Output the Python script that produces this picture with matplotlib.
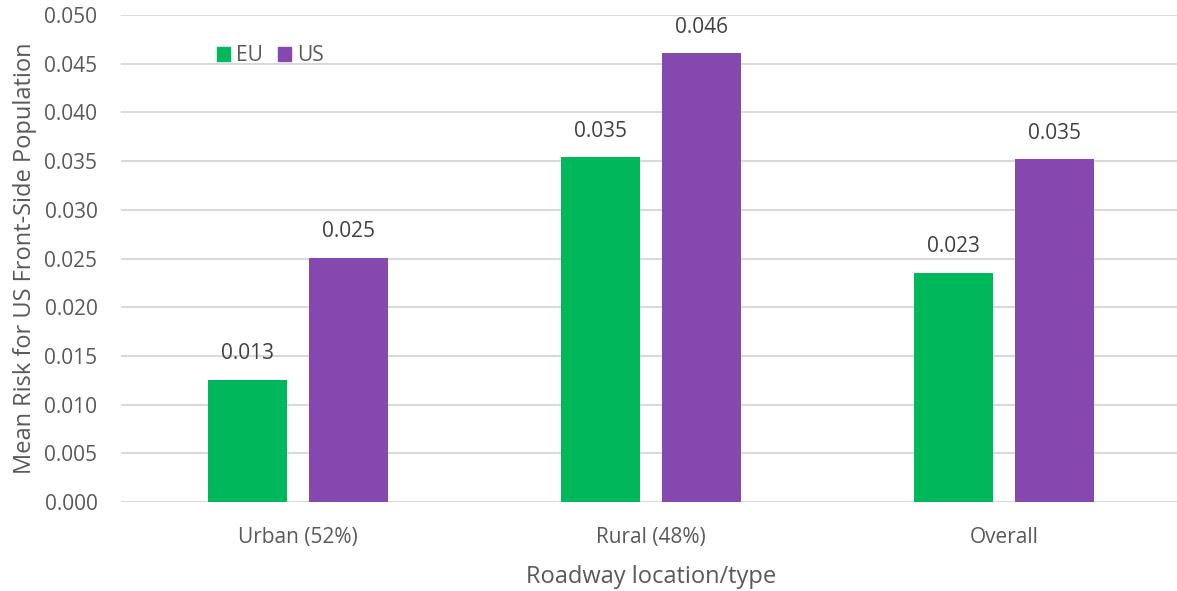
import matplotlib
matplotlib.use("Agg")
import matplotlib.pyplot as plt
import numpy as np
from matplotlib.patches import Patch

categories = ["Urban (52%)", "Rural (48%)", "Overall"]
eu_values = [0.01255, 0.0354, 0.02355]
us_values = [0.0251, 0.0461, 0.0352]
eu_labels = ["0.013", "0.035", "0.023"]
us_labels = ["0.025", "0.046", "0.035"]
yticks = [0.000, 0.005, 0.010, 0.015, 0.020, 0.025, 0.030, 0.035, 0.040, 0.045, 0.050]

plt.rcParams['font.family'] = ['Open Sans', 'DejaVu Sans']
text_color = "#595959"
eu_color = "#00B85C"
us_color = "#8548AE"

fig = plt.figure(figsize=(11.77, 5.91), dpi=100)
ax = fig.add_axes([0.1028, 0.1506, 0.9006, 0.8240])

x = np.arange(len(categories))
w = 0.224
off = 0.143
b1 = ax.bar(x - off, eu_values, w, color=eu_color, zorder=3, label="EU")
b2 = ax.bar(x + off, us_values, w, color=us_color, zorder=3, label="US")

for rect, lab in zip(b1, eu_labels):
    ax.annotate(lab, (rect.get_x() + rect.get_width() / 2, rect.get_height()),
                xytext=(0, 11), textcoords="offset points", ha="center", va="bottom",
                fontsize=15, color="#404040")
for rect, lab in zip(b2, us_labels):
    ax.annotate(lab, (rect.get_x() + rect.get_width() / 2, rect.get_height()),
                xytext=(0, 11), textcoords="offset points", ha="center", va="bottom",
                fontsize=15, color="#404040")

ax.set_xlim(-0.5, 2.5)
ax.set_ylim(0, 0.050)
ax.set_yticks(yticks)
ax.set_yticklabels([f"{v:.3f}" for v in yticks])
ax.set_xticks(x)
ax.set_xticklabels(categories)
ax.tick_params(axis="both", length=0, labelsize=15, colors=text_color)
ax.tick_params(axis="y", pad=17)
ax.tick_params(axis="x", pad=18)
ax.yaxis.grid(True, color="#D9D9D9", linewidth=1.5, zorder=0)
ax.set_axisbelow(True)
for s in ax.spines.values():
    s.set_visible(False)

ax.set_ylabel("Mean Risk for US Front-Side Population", fontsize=17, color=text_color, labelpad=5)
ax.set_xlabel("Roadway location/type", fontsize=17, color=text_color, labelpad=12)

handles = [Patch(color=eu_color), Patch(color=us_color)]
leg = ax.legend(handles, ["EU", "US"], loc="center left", bbox_to_anchor=(0.083, 0.916),
                ncol=2, frameon=False, fontsize=15, handlelength=0.62, handleheight=0.62,
                handletextpad=0.3, columnspacing=0.7, borderaxespad=0)
for t in leg.get_texts():
    t.set_color(text_color)

fig.savefig("out.png", dpi=100)
